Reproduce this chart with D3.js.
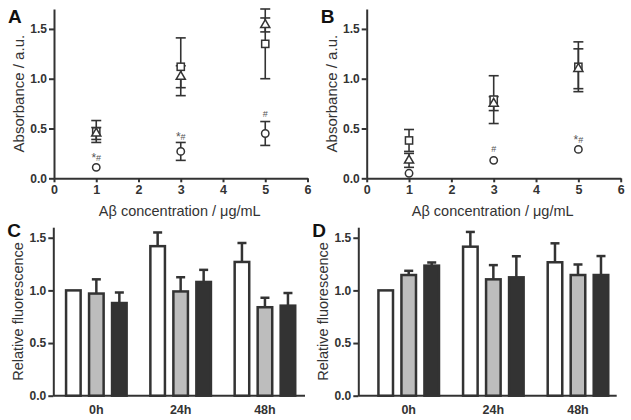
<!DOCTYPE html>
<html><head><meta charset="utf-8">
<script src="https://cdn.jsdelivr.net/npm/d3@7"></script>
<style>body{margin:0;background:#fff}svg{display:block}text{font-family:"Liberation Sans",Arial,sans-serif}</style>
</head><body>
<svg id="c" width="631" height="420"></svg>
<script>
// ---- data ----
const concentrations = [1, 3, 5];
const xTicksAB = [0, 1, 2, 3, 4, 5, 6];
const yTicks = [0, 0.5, 1.0, 1.5];

const squareA = [0.47, 1.12, 1.35];
const squareAErr = [0.11, 0.29, 0.35];
const triangleA = [0.45, 1.02, 1.54];
const triangleAErr = [0.06, 0.11, 0.07];
const circleA = [0.11, 0.27, 0.45];
const circleAErr = [0.0, 0.09, 0.12];
const notesA = ["*#", "*#", "#"];

const squareB = [0.38, 0.79, 1.12];
const squareBErr = [0.11, 0.24, 0.25];
const triangleB = [0.18, 0.75, 1.10];
const triangleBErr = [0.07, 0.07, 0.20];
const circleB = [0.05, 0.18, 0.29];
const circleBErr = [0, 0, 0];
const notesB = ["", "#", "*#"];

const timeGroups = ["0h", "24h", "48h"];
const seriesKeys = ["white", "gray", "black"];
const whiteC = [1.00, 1.42, 1.27], whiteCErr = [0, 0.13, 0.18];
const grayC = [0.97, 0.99, 0.84], grayCErr = [0.135, 0.135, 0.09];
const blackC = [0.88, 1.08, 0.855], blackCErr = [0.10, 0.115, 0.12];
const whiteD = [1.00, 1.415, 1.267], whiteDErr = [0, 0.14, 0.18];
const grayD = [1.146, 1.105, 1.146], grayDErr = [0.04, 0.135, 0.10];
const blackD = [1.235, 1.124, 1.146], blackDErr = [0.03, 0.20, 0.18];

const ink = "#333";
const svg = d3.select("#c");

function styleAxis(g) {
  g.selectAll("path,line").attr("stroke", ink).attr("stroke-width", 2);
  g.selectAll("text").attr("font-size", 12).attr("font-weight", "bold").attr("fill", ink)
   .style("font-family", '"Liberation Sans",Arial,sans-serif');
}

function scatterPanel(o) {
  const x = d3.scaleLinear().domain([0, 6]).range(o.xr);
  const y = d3.scaleLinear().domain([0, 1.7]).range([178.3, 9]);
  const gy = svg.append("g").attr("transform", `translate(${o.xr[0]},0)`)
    .call(d3.axisLeft(y).tickValues(yTicks).tickFormat(d3.format(".1f")).tickSize(5).tickSizeOuter(0).tickPadding(2));
  styleAxis(gy);
  const gx = svg.append("g").attr("transform", `translate(0,178.3)`)
    .call(d3.axisBottom(x).tickValues(xTicksAB).tickFormat(d3.format("d")).tickSize(4).tickSizeOuter(0).tickPadding(3));
  styleAxis(gx);
  gx.selectAll("text").attr("font-size", 12.5);

  svg.append("text").attr("x", (o.xr[0] + o.xr[1]) / 2 - 1).attr("y", 216).attr("text-anchor", "middle")
    .attr("font-size", 14.5).attr("fill", ink).text("Aβ concentration /  μg/mL");
  svg.append("text").attr("transform", `translate(${o.xr[0] - 30},${(178.3 + 9) / 2}) rotate(-90)`)
    .attr("text-anchor", "middle").attr("font-size", 15).attr("fill", ink).text("Absorbance / a.u.");
  svg.append("text").attr("x", o.xr[0] - 46).attr("y", 23).attr("font-size", 19).attr("font-weight", "bold")
    .attr("fill", "#111").text(o.letter);

  const series = [
    { v: o.circle, e: o.circleErr, type: "circle" },
    { v: o.square, e: o.squareErr, type: "square" },
    { v: o.triangle, e: o.triangleErr, type: "triangle" }
  ];
  const eg = svg.append("g").attr("stroke", ink).attr("stroke-width", 1.6);
  series.forEach(s => {
    concentrations.forEach((c, i) => {
      if (!s.e[i]) return;
      const cx = x(c), y1 = y(s.v[i] + s.e[i]), y0 = y(s.v[i] - s.e[i]);
      eg.append("line").attr("x1", cx).attr("x2", cx).attr("y1", y1).attr("y2", y0);
      eg.append("line").attr("x1", cx - 5).attr("x2", cx + 5).attr("y1", y1).attr("y2", y1);
      eg.append("line").attr("x1", cx - 5).attr("x2", cx + 5).attr("y1", y0).attr("y2", y0);
    });
  });
  const mg = svg.append("g").attr("stroke", ink).attr("stroke-width", 1.5).attr("fill", "#fff");
  series.forEach(s => {
    concentrations.forEach((c, i) => {
      const cx = x(c), cy = y(s.v[i]);
      if (s.type === "circle") mg.append("circle").attr("cx", cx).attr("cy", cy).attr("r", 3.7);
      else if (s.type === "square") mg.append("rect").attr("x", cx - 3.6).attr("y", cy - 3.6).attr("width", 7.2).attr("height", 7.2);
      else mg.append("path").attr("transform", `translate(${cx},${cy})`).attr("d", d3.symbol(d3.symbolTriangle, 36)());
    });
  });
  concentrations.forEach((c, i) => {
    if (!o.notes[i]) return;
    const top = Math.min(y(o.circle[i] + o.circleErr[i]), y(o.circle[i]) - 4);
    const t = svg.append("text").attr("x", x(c)).attr("y", top - 3.5).attr("text-anchor", "middle").attr("fill", "#555");
    o.notes[i].split("").forEach(ch => {
      t.append("tspan").attr("font-size", ch === "*" ? 12 : 9).attr("dy", ch === "*" ? 2 : -1)
        .attr("fill", "#555").text(ch);
    });
  });
}

function barPanel(o) {
  const x = d3.scaleBand().domain(timeGroups).range(o.br).padding(0);
  const inner = d3.scaleBand().domain(seriesKeys).range([0, 69]).paddingInner(0.28).paddingOuter(0.14);
  const y = d3.scaleLinear().domain([0, 1.6]).range([395.7, 227.2]);
  const gy = svg.append("g").attr("transform", `translate(${o.axisX[0]},0)`)
    .call(d3.axisLeft(y).tickValues(yTicks).tickFormat(d3.format(".1f")).tickSize(5).tickSizeOuter(0).tickPadding(2));
  styleAxis(gy);
  svg.append("line").attr("x1", o.axisX[0]).attr("x2", o.axisX[1]).attr("y1", 395.7).attr("y2", 395.7)
    .attr("stroke", ink).attr("stroke-width", 2);
  timeGroups.forEach(g => {
    svg.append("text").attr("x", x(g) + x.bandwidth() / 2).attr("y", 414).attr("text-anchor", "middle")
      .attr("font-size", 12.5).attr("font-weight", "bold").attr("fill", ink).text(g);
  });
  svg.append("text").attr("transform", `translate(${o.axisX[0] - 30},${(395.7 + 227.2) / 2}) rotate(-90)`)
    .attr("text-anchor", "middle").attr("font-size", 14.5).attr("fill", ink).text("Relative fluorescence");
  svg.append("text").attr("x", o.axisX[0] - 46).attr("y", 237).attr("font-size", 19).attr("font-weight", "bold")
    .attr("fill", "#111").text(o.letter);

  const fills = { white: "#fff", gray: "#bdbdbd", black: "#333" };
  seriesKeys.forEach((k, si) => {
    timeGroups.forEach((g, gi) => {
      const v = o.vals[si][gi], e = o.errs[si][gi];
      const bx = x(g) + x.bandwidth() / 2 - 34.5 + inner(k);
      const cx = bx + inner.bandwidth() / 2;
      if (e) {
        svg.append("line").attr("x1", cx).attr("x2", cx).attr("y1", y(v)).attr("y2", y(v + e))
          .attr("stroke", ink).attr("stroke-width", 2.5);
        svg.append("line").attr("x1", cx - 4.5).attr("x2", cx + 4.5).attr("y1", y(v + e)).attr("y2", y(v + e))
          .attr("stroke", ink).attr("stroke-width", 2.5);
      }
      svg.append("rect").attr("x", bx + 1).attr("width", inner.bandwidth() - 2)
        .attr("y", y(v)).attr("height", y(0) - y(v))
        .attr("fill", fills[k]).attr("stroke", ink).attr("stroke-width", 2.5);
    });
  });
}

scatterPanel({ letter: "A", xr: [54, 307.5], square: squareA, squareErr: squareAErr, triangle: triangleA, triangleErr: triangleAErr, circle: circleA, circleErr: circleAErr, notes: notesA });
scatterPanel({ letter: "B", xr: [366.7, 620.7], square: squareB, squareErr: squareBErr, triangle: triangleB, triangleErr: triangleBErr, circle: circleB, circleErr: circleBErr, notes: notesB });
barPanel({ letter: "C", axisX: [53.3, 305], br: [54.2, 307.1], vals: [whiteC, grayC, blackC], errs: [whiteCErr, grayCErr, blackCErr] });
barPanel({ letter: "D", axisX: [358.3, 616.7], br: [366.4, 620.3], vals: [whiteD, grayD, blackD], errs: [whiteDErr, grayDErr, blackDErr] });
</script>
</body></html>
